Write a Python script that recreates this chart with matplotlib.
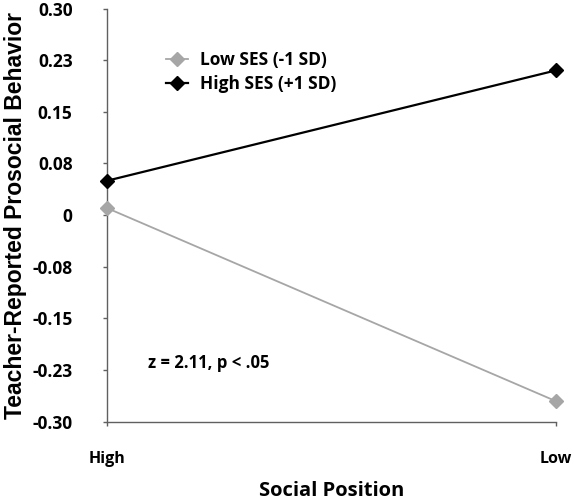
import matplotlib.pyplot as plt

# data
positions = ["High", "Low"]
low_ses = [0.01, -0.27]
high_ses = [0.05, 0.21]
yticks = [-0.30, -0.225, -0.15, -0.075, 0.0, 0.075, 0.15, 0.225, 0.30]
ytick_labels = ["-0.30", "-0.23", "-0.15", "-0.08", "0", "0.08", "0.15", "0.23", "0.30"]

label_font = "Open Sans"

fig = plt.figure(figsize=(5.74, 5.0), dpi=100)
ax = fig.add_axes([0.187, 0.1566, 0.781, 0.8264])

x = list(range(len(positions)))
ax.plot(x, low_ses, color="#A6A6A6", lw=1.3, marker="D", ms=7,
        mfc="#A6A6A6", mec="#A6A6A6", label="Low SES (-1 SD)", clip_on=False, zorder=3)
ax.plot(x, high_ses, color="black", lw=1.6, marker="D", ms=7,
        mfc="black", mec="black", label="High SES (+1 SD)", clip_on=False, zorder=4)

ax.set_xlim(0, 1)
ax.set_ylim(-0.30, 0.30)
ax.set_xticks(x)
ax.set_xticklabels(positions, fontfamily=label_font, fontweight="bold", fontsize=11.5)
ax.set_yticks(yticks)
ax.set_yticklabels(ytick_labels, fontfamily=label_font, fontweight="bold", fontsize=12.5)

for s in ["top", "right"]:
    ax.spines[s].set_visible(False)
for s in ["left", "bottom"]:
    ax.spines[s].set_color("#606060")
    ax.spines[s].set_linewidth(1.0)
ax.tick_params(axis="y", length=3, width=1, color="#606060", pad=22)
ax.tick_params(axis="x", length=3, width=1, color="#606060", pad=18)

ax.set_xlabel("Social Position", fontfamily=label_font, fontweight="bold",
              fontsize=14.5, labelpad=10)
ax.set_ylabel("Teacher-Reported Prosocial Behavior", fontfamily="Liberation Sans",
              fontweight="bold", fontsize=16.5, labelpad=4)

ax.text(0.091, -0.215, "z = 2.11, p < .05", fontfamily=label_font, fontweight="bold",
        fontsize=12, ha="left", va="center")

leg = ax.legend(loc="upper left", bbox_to_anchor=(0.0955, 0.934), frameon=False,
                prop={"family": label_font, "weight": "bold", "size": 12.5},
                handlelength=1.3, handletextpad=0.7, labelspacing=0.35)

fig.savefig("out.png", dpi=100)
